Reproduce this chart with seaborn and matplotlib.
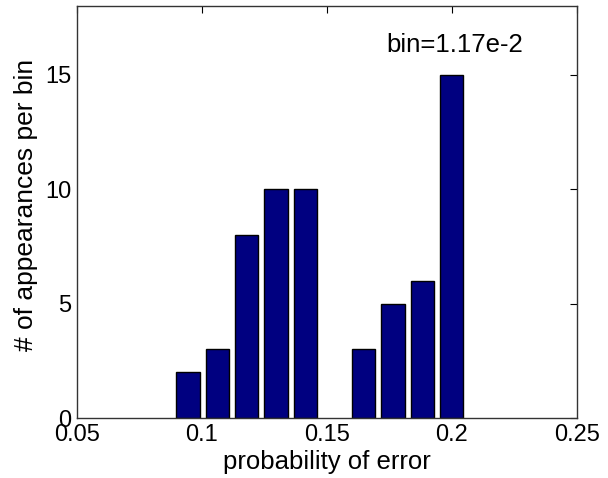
import numpy as np
import pandas as pd
import matplotlib
matplotlib.use('Agg')
import matplotlib.pyplot as plt
import seaborn as sns

# histogram bins (centres) and counts
bin_centers = [0.0944, 0.1061, 0.1178, 0.1296, 0.1413, 0.1530, 0.1647, 0.1764, 0.1882, 0.1999]
counts = [2, 3, 8, 10, 10, 0, 3, 5, 6, 15]
x_ticks = [0.05, 0.1, 0.15, 0.2, 0.25]
x_tick_labels = ['0.05', '0.1', '0.15', '0.2', '0.25']
y_ticks = [0, 5, 10, 15]
note = 'bin=1.17e-2'

sns.set_style('white')
plt.rcParams['font.family'] = ['Liberation Sans', 'DejaVu Sans']
plt.rcParams['text.color'] = 'black'
plt.rcParams['axes.labelcolor'] = 'black'

df = pd.DataFrame({'center': bin_centers, 'count': counts})
# empty bins are not drawn (same bar width though)
df = df[df['count'] > 0]

fig = plt.figure(figsize=(6.08, 4.78), dpi=100)
ax = fig.add_axes([0.1266, 0.1255, 0.8224, 0.8619])
sns.barplot(data=df, x='center', y='count', native_scale=True, width=0.8,
            color='#000080', saturation=1, edgecolor='black', linewidth=1, ax=ax)

ax.set_xlim(0.05, 0.25)
ax.set_ylim(0, 18)
ax.set_xticks(x_ticks)
ax.set_xticklabels(x_tick_labels)
ax.set_yticks(y_ticks)
ax.tick_params(direction='in', length=5, width=0.8, top=True, right=True,
               labelsize=17, pad=4, colors='black')
for s in ax.spines.values():
    s.set_visible(True)
    s.set_color('#333333')
    s.set_linewidth(1)

ax.set_xlabel('probability of error', fontsize=18.5, labelpad=3)
ax.set_ylabel('# of appearances per bin', fontsize=19)
ax.yaxis.set_label_coords(-0.078, 0.517)
ax.text(0.1736, 16.3, note, fontsize=18.5, va='center', ha='left')

fig.savefig('out.png', dpi=100)
